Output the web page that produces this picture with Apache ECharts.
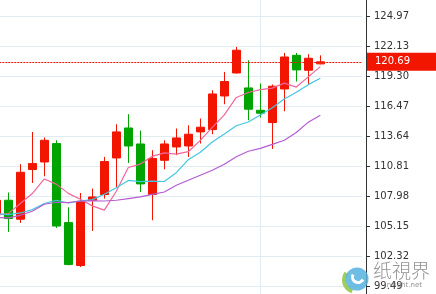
<!DOCTYPE html>
<html><head><meta charset="utf-8">
<script src="https://cdn.jsdelivr.net/npm/echarts@6/dist/echarts.min.js"></script>
<style>html,body{margin:0;padding:0;background:#fff;overflow:hidden}#c{width:436px;height:294px}</style>
</head><body><div id="c"></div>
<script>
// 31 category slots: 28 trading days shown + 3 empty slots on the right
const categories = ['1','2','3','4','5','6','7','8','9','10','11','12','13','14','15','16','17','18','19','20','21','22','23','24','25','26','27','28','29','30','31'];
// [open, close, low, high]
const candles = [
  [106.31,107.63,105.90,108.20],
  [107.63,105.90,104.64,108.36],
  [105.84,110.27,105.49,111.03],
  [110.53,111.09,109.26,114.07],
  [111.24,113.29,109.89,113.55],
  [112.98,105.20,105.02,113.29],
  [105.52,101.56,101.49,106.97],
  [101.47,107.53,101.33,108.32],
  [107.63,107.94,104.73,108.73],
  [108.17,111.28,107.79,111.72],
  [111.62,114.08,108.88,114.80],
  [114.45,112.75,111.15,115.75],
  [112.94,109.17,108.41,114.21],
  [108.17,111.57,105.74,112.35],
  [111.40,112.94,110.55,113.29],
  [112.66,113.51,111.88,114.40],
  [112.75,113.86,111.72,114.71],
  [114.08,114.52,112.98,115.34],
  [114.30,117.66,113.86,118.01],
  [117.47,118.83,116.69,119.74],
  [119.64,121.79,119.59,122.10],
  [118.23,116.22,115.18,120.84],
  [116.12,115.84,115.43,118.64],
  [114.96,118.39,112.47,118.55],
  [118.13,121.15,116.03,121.53],
  [121.31,119.93,118.83,121.53],
  [119.90,121.03,118.60,121.41],
  [120.50,120.69,120.45,121.30]
];
const ma5  = [106.21,106.37,107.32,108.26,109.64,109.15,108.28,107.73,107.10,106.70,108.48,110.72,111.04,111.77,112.10,111.99,112.21,113.28,114.50,115.68,117.33,117.80,118.07,118.21,118.68,118.31,119.27,120.24];
const ma10 = [106.37,106.28,106.43,106.75,107.32,107.63,107.37,107.56,107.69,108.20,108.81,109.50,109.39,109.44,109.40,110.23,111.46,112.16,113.13,113.89,114.66,115.01,115.67,116.36,117.18,117.82,118.54,119.15];
const ma20 = [106.00,105.96,106.21,106.59,107.25,107.44,107.41,107.56,107.58,107.56,107.63,107.79,107.94,108.19,108.41,109.05,109.52,109.99,110.46,111.03,111.74,112.25,112.53,112.90,113.29,114.03,115.00,115.66];
const yTicks = [99.49,102.32,105.15,107.98,110.81,113.64,116.47,119.30,122.13,124.97];
const lastPrice = 120.69;
const dividerCategory = categories[22];

const RED = '#f21500', GREEN = '#00a400';
const chart = echarts.init(document.getElementById('c'), null, {renderer: 'canvas'});
const option = {
  animation: false,
  grid: {left: -9.7, right: 73.7, top: 0, bottom: 0, outerBoundsMode: 'none', containLabel: false},
  xAxis: {
    type: 'category', data: categories, boundaryGap: true,
    axisLine: {show: false}, axisTick: {show: false}, axisLabel: {show: false}, splitLine: {show: false}
  },
  yAxis: {
    type: 'value', position: 'right', offset: 3.7,
    min: 98.782, max: 126.527,
    axisLine: {show: true, lineStyle: {color: '#333', width: 1}},
    axisTick: {show: true, length: 4, customValues: yTicks, lineStyle: {color: '#333'}},
    axisLabel: {customValues: yTicks, margin: 8, color: '#333', fontFamily: 'DejaVu Sans', fontSize: 10,
      formatter: v => Number(v).toFixed(2)},
    splitLine: {show: true, lineStyle: {color: '#e2eaf2', width: 1}}
  },
  series: [
    {
      type: 'candlestick', data: candles, barWidth: 9, z: 3,
      itemStyle: {color: RED, color0: GREEN, borderColor: RED, borderColor0: GREEN, borderWidth: 1},
      markLine: {
        silent: true, symbol: ['none', 'none'], animation: false,
        lineStyle: {color: RED, type: [2, 1], width: 1},
        label: {
          show: true, position: 'end', distance: 4.7, formatter: () => lastPrice.toFixed(2),
          color: '#fff', backgroundColor: RED, padding: [3, 30, 3, 8],
          fontFamily: 'DejaVu Sans', fontSize: 10, lineHeight: 12
        },
        data: [{yAxis: lastPrice}]
      }
    },
    {type: 'line', data: ma5, symbol: 'none', z: 4, lineStyle: {color: '#f0669c', width: 1.2}, itemStyle: {color: '#f0669c'}},
    {type: 'line', data: ma10, symbol: 'none', z: 4, lineStyle: {color: '#44c6e0', width: 1.2}, itemStyle: {color: '#44c6e0'}},
    {
      type: 'line', data: ma20, symbol: 'none', z: 4, lineStyle: {color: '#b45cd2', width: 1.2}, itemStyle: {color: '#b45cd2'},
      markLine: {
        silent: true, z: 1, symbol: ['none', 'none'], animation: false,
        lineStyle: {color: '#e2eaf2', type: 'solid', width: 1},
        label: {show: false},
        data: [{xAxis: dividerCategory}]
      }
    }
  ],
  graphic: [
    {type: 'sector', z: 10, shape: {cx: 356, cy: 280, r: 14, r0: 10, startAngle: Math.PI * 0.6, endAngle: Math.PI * 1.2},
      style: {fill: 'rgba(140,198,63,0.85)'}},
    {type: 'circle', z: 10, shape: {cx: 357, cy: 279, r: 11.5}, style: {fill: 'rgba(86,178,222,0.85)'}},
    {type: 'arc', z: 11, shape: {cx: 358, cy: 277, r: 5.5, startAngle: Math.PI * 0.15, endAngle: Math.PI * 1.15},
      style: {stroke: '#fff', lineWidth: 3, fill: 'none'}},
    {type: 'text', z: 10, style: {text: '纸視界', x: 373, y: 261, fontFamily: 'Noto Sans CJK TC', fontWeight: 300, fontSize: 19,
      fill: 'rgba(110,110,110,0.75)'}},
    {type: 'text', z: 10, style: {text: 'insight.net', x: 422, y: 285, align: 'right', verticalAlign: 'middle',
      fontFamily: 'DejaVu Sans', fontSize: 7, fill: 'rgba(120,120,120,0.8)'}}
  ]
};
chart.setOption(option);
</script>
</body></html>
